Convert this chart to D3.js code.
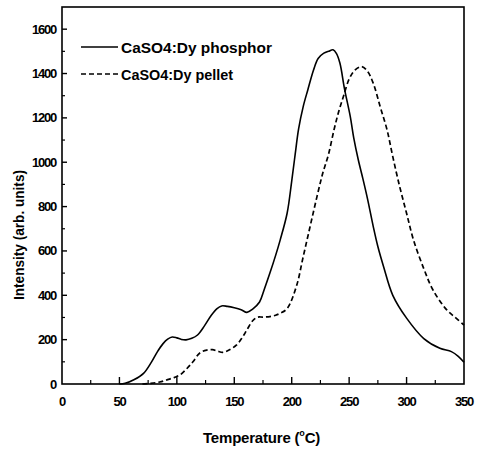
<!DOCTYPE html>
<html>
<head>
<meta charset="utf-8">
<script src="https://cdn.jsdelivr.net/npm/d3@7/dist/d3.min.js"></script>
<style>
  html, body { margin: 0; padding: 0; background: #fff; }
  svg { display: block; }
  text { font-family: "Liberation Sans", Arial, sans-serif; fill: #000; }
</style>
</head>
<body>
<script>
// ---- Data ----
const seriesNames = ["CaSO4:Dy phosphor", "CaSO4:Dy pellet"];

const phosphorT = [50, 55, 63, 71, 78, 83, 88, 92, 96, 100, 104, 108, 113, 118, 124, 130, 135, 139, 144, 150, 156, 161, 166, 172, 176, 181, 186, 190, 196, 200, 203, 206, 210, 214, 219, 223, 228, 232, 236, 239, 242, 246, 251, 254, 258, 262, 266, 271, 275, 280, 288, 300, 315, 329, 339, 345, 350];
const phosphorI = [0, 3, 20, 48, 100, 145, 182, 202, 212, 208, 201, 199, 206, 221, 262, 310, 340, 352, 350, 344, 335, 323, 338, 370, 425, 500, 580, 650, 770, 915, 1035, 1150, 1251, 1326, 1416, 1468, 1492, 1500, 1507, 1490, 1446, 1330, 1206, 1110, 1010, 925, 835, 710, 620, 529, 400, 297, 205, 161, 146, 125, 98];

const pelletT = [70, 77, 85, 91, 98, 103, 109, 114, 120, 126, 131, 136, 140, 145, 152, 157, 161, 166, 170, 175, 181, 186, 190, 196, 204, 210, 216, 222, 227, 232, 237, 241, 245, 250, 255, 261, 266, 271, 277, 283, 288, 294, 300, 306, 315, 323, 335, 342, 350];
const pelletI = [0, 3, 9, 18, 30, 42, 71, 100, 140, 153, 155, 147, 143, 152, 176, 210, 244, 285, 301, 302, 304, 310, 319, 340, 439, 574, 710, 845, 950, 1035, 1150, 1230, 1296, 1375, 1415, 1431, 1410, 1356, 1251, 1146, 1025, 890, 770, 650, 520, 424, 334, 302, 266];

const xTickValues = [0, 50, 100, 150, 200, 250, 300, 350];
const yTickValues = [0, 200, 400, 600, 800, 1000, 1200, 1400, 1600];
const xLabel = "Temperature (";
const yLabel = "Intensity (arb. units)";

// ---- Layout ----
const W = 481, H = 450;
const margin = { left: 62, right: 17, top: 7, bottom: 66 };
const x = d3.scaleLinear().domain([0, 350]).range([margin.left, W - margin.right]);
const y = d3.scaleLinear().domain([0, 1700]).range([H - margin.bottom, margin.top]);

const svg = d3.select("body").append("svg").attr("width", W).attr("height", H);

// frame
svg.append("rect")
  .attr("x", x(0)).attr("y", y(1700))
  .attr("width", x(350) - x(0)).attr("height", y(0) - y(1700))
  .attr("fill", "none").attr("stroke", "#000").attr("stroke-width", 1.6);

// x ticks (inward)
const xMinor = d3.range(25, 350, 50);
svg.append("g").selectAll("line").data(xTickValues.slice(1, -1)).join("line")
  .attr("x1", d => x(d)).attr("x2", d => x(d))
  .attr("y1", y(0)).attr("y2", y(0) - 7)
  .attr("stroke", "#000").attr("stroke-width", 1.4);
svg.append("g").selectAll("line").data(xMinor).join("line")
  .attr("x1", d => x(d)).attr("x2", d => x(d))
  .attr("y1", y(0)).attr("y2", y(0) - 4)
  .attr("stroke", "#000").attr("stroke-width", 1.2);
svg.append("g").selectAll("text").data(xTickValues).join("text")
  .attr("x", d => x(d)).attr("y", y(0) + 22)
  .attr("text-anchor", "middle")
  .attr("font-size", 13).attr("font-weight", "bold").attr("letter-spacing", -1.2)
  .text(d => d);

// y ticks (inward)
const yMinor = d3.range(100, 1700, 200);
svg.append("g").selectAll("line").data(yTickValues.slice(1)).join("line")
  .attr("x1", x(0)).attr("x2", x(0) + 5)
  .attr("y1", d => y(d)).attr("y2", d => y(d))
  .attr("stroke", "#000").attr("stroke-width", 1.4);
svg.append("g").selectAll("line").data(yMinor).join("line")
  .attr("x1", x(0)).attr("x2", x(0) + 3)
  .attr("y1", d => y(d)).attr("y2", d => y(d))
  .attr("stroke", "#000").attr("stroke-width", 1.2);
svg.append("g").selectAll("text").data(yTickValues).join("text")
  .attr("x", x(0) - 6).attr("y", d => y(d) + 4.5)
  .attr("text-anchor", "end")
  .attr("font-size", 13).attr("font-weight", "bold").attr("letter-spacing", -1.2)
  .text(d => d);

// axis titles
const xt = svg.append("text")
  .attr("x", 203).attr("y", 443)
  .attr("font-size", 15).attr("font-weight", "bold").attr("letter-spacing", -0.2);
xt.append("tspan").text(xLabel);
xt.append("tspan").attr("font-size", 9).attr("dy", -7).text("o");
xt.append("tspan").attr("dy", 7).text("C)");

svg.append("text")
  .attr("transform", `translate(24,${235}) rotate(-90)`)
  .attr("text-anchor", "middle")
  .attr("font-size", 15).attr("font-weight", "bold")
  .attr("textLength", 130).attr("lengthAdjust", "spacingAndGlyphs")
  .text(yLabel);

// curves
const line = d3.line().x(d => x(d[0])).y(d => y(d[1])).curve(d3.curveCatmullRom.alpha(0.5));
const phosphor = d3.zip(phosphorT, phosphorI);
const pellet = d3.zip(pelletT, pelletI);

svg.append("path").datum(phosphor).attr("d", line)
  .attr("fill", "none").attr("stroke", "#000").attr("stroke-width", 1.6);
svg.append("path").datum(pellet).attr("d", line)
  .attr("fill", "none").attr("stroke", "#000").attr("stroke-width", 1.7)
  .attr("stroke-dasharray", "5,3");

// legend
const legend = svg.append("g");
const legY = [47, 74];
const legW = [151, 112];
const dashes = [null, "5,3"];
seriesNames.forEach((name, i) => {
  legend.append("line")
    .attr("x1", 81).attr("x2", 118).attr("y1", legY[i]).attr("y2", legY[i])
    .attr("stroke", "#000").attr("stroke-width", 1.4)
    .attr("stroke-dasharray", dashes[i]);
  legend.append("text")
    .attr("x", 121).attr("y", legY[i] + 6)
    .attr("font-size", 15).attr("font-weight", "bold")
    .attr("textLength", legW[i]).attr("lengthAdjust", "spacingAndGlyphs")
    .text(name);
});
</script>
</body>
</html>
